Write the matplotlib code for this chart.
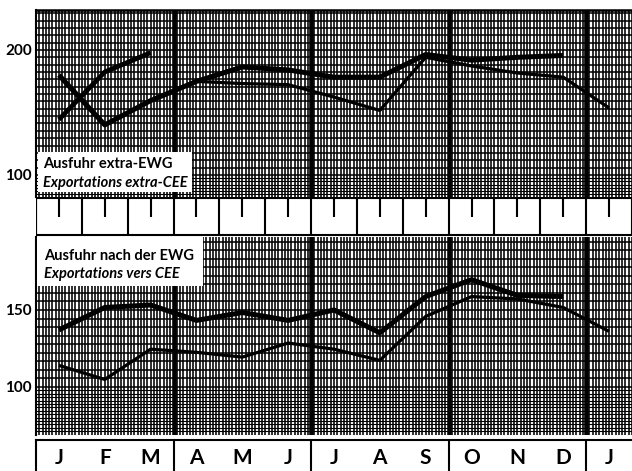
import numpy as np
import matplotlib
matplotlib.use("Agg")
import matplotlib.pyplot as plt
from matplotlib.collections import LineCollection
from matplotlib.patches import Rectangle
from matplotlib.ticker import NullLocator, NullFormatter, FixedLocator, FixedFormatter

nan = np.nan
months = ["J", "F", "M", "A", "M", "J", "J", "A", "S", "O", "N", "D", "J"]

# Ausfuhr extra-EWG (index values, log scale)
extra_thick = [174, 132, 151, 168, 182, 179, 172, 172, 195, 189, 192, 194, nan]
extra_thin = [nan, nan, nan, 168, 166, 165, 154, 143, 192, 183, 176, 172, 145]
extra_next = [136, 177, 197, nan, nan, nan, nan, nan, nan, nan, nan, nan, nan]
extra_ticks = [100, 200]
extra_title = ["Ausfuhr extra-EWG", "Exportations extra-CEE"]

# Ausfuhr nach der EWG
ewg_thick = [135, 152, 154, 142, 148, 142, 150, 133, 161, 176, 162, 161, nan]
ewg_thin = [112, 104, 122, 120, 117, 126, 122, 115, 145, 161, 159, 152, 134]
ewg_ticks = [100, 150]
ewg_title = ["Ausfuhr nach der EWG", "Exportations vers CEE"]

W, H = 632, 471
fig = plt.figure(figsize=(W / 100, H / 100), dpi=100)
fig.patch.set_facecolor("white")
FONT = ["Lato", "DejaVu Sans"]


def fr(l, t, r, b):
    return [l / W, 1 - b / H, (r - l) / W, (b - t) / H]


x = np.arange(len(months))
xlim = (-0.5, len(months) - 0.5)
quarters = [2.5, 5.5, 8.5, 11.5]


def draw_grid(ax, ylo, yhi, base, d_main, d_dense):
    xs = -0.5 + np.arange(len(months) * 14 + 1) / 14.0
    segs = [[(xv, 0), (xv, 1)] for xv in xs]
    lc = LineCollection(segs, colors="black", linewidths=1.15, antialiaseds=True,
                        transform=ax.get_xaxis_transform(), zorder=1)
    ax.add_collection(lc, autolim=False)
    ys = []
    k = 0
    while base * 10 ** (k * d_main) <= yhi:
        ys.append(base * 10 ** (k * d_main))
        k += 1
    segs = [[(0, yv), (1, yv)] for yv in ys]
    lc = LineCollection(segs, colors="black", linewidths=1.1, antialiaseds=True,
                        transform=ax.get_yaxis_transform(), zorder=1)
    ax.add_collection(lc, autolim=False)
    ys = []
    k = 1
    while base * 10 ** (-k * d_dense) >= ylo:
        ys.append(base * 10 ** (-k * d_dense))
        k += 1
    segs = [[(0, yv), (1, yv)] for yv in ys]
    lc = LineCollection(segs, colors="black", linewidths=0.8, antialiaseds=True,
                        transform=ax.get_yaxis_transform(), zorder=1)
    ax.add_collection(lc, autolim=False)


def setup_panel(ax, ylim, ticks, thick, thin, extra, title, box, tpos):
    ax.set_yscale("log")
    ax.set_xlim(*xlim)
    ax.set_ylim(*ylim)
    ax.set_xticks([])
    ax.yaxis.set_major_locator(FixedLocator(ticks))
    ax.yaxis.set_major_formatter(FixedFormatter([str(t) for t in ticks]))
    ax.yaxis.set_minor_locator(NullLocator())
    ax.yaxis.set_minor_formatter(NullFormatter())
    ax.tick_params(axis="y", length=0, pad=3)
    for lab in ax.get_yticklabels():
        lab.set_fontweight("bold")
        lab.set_fontsize(11)
        lab.set_family(FONT)
    for s in ["right", "bottom"]:
        ax.spines[s].set_visible(False)
    ax.spines["left"].set_linewidth(1.5)
    ax.spines["top"].set_linewidth(1.8)
    for q in quarters:
        ax.axvline(q, color="black", lw=3.3, zorder=2)
    ax.plot(x, thick, color="black", lw=3.6, solid_capstyle="butt",
            solid_joinstyle="round", zorder=4)
    ax.plot(x, thin, color="black", lw=2.3, solid_capstyle="butt",
            solid_joinstyle="round", zorder=4)
    if extra is not None:
        ax.plot(x, extra, color="black", lw=3.4, solid_capstyle="butt",
                solid_joinstyle="round", zorder=4)
    ax.add_patch(Rectangle((box[0], box[1]), box[2], box[3], transform=ax.transAxes,
                           facecolor="white", edgecolor="none", zorder=5))
    ax.text(tpos[0], tpos[1], title[0], transform=ax.transAxes, fontsize=10.5,
            fontweight="bold", family=FONT, va="baseline", ha="left", zorder=6)
    ax.text(tpos[0], tpos[2], title[1], transform=ax.transAxes, fontsize=10.5,
            fontweight="bold", style="italic", family=FONT, va="baseline",
            ha="left", zorder=6)


# top panel: y 10..197 px, 200 at y=50, 100 at y=175
ax1 = fig.add_axes(fr(36, 10, 632, 197))
ylim1 = (88.5, 249.6)
draw_grid(ax1, ylim1[0], ylim1[1], 100, np.log10(2) / 17, 0.0078)
setup_panel(ax1, ylim1, extra_ticks, extra_thick, extra_thin, extra_next, extra_title,
            (0.003, 0.027, 0.258, 0.214), (0.012, 0.155, 0.053))

# bottom panel: y 237..435 px, 150 at y=310, 100 at y=387
ax2 = fig.add_axes(fr(36, 237, 632, 435))
ylim2 = (77.6, 220.4)
draw_grid(ax2, ylim2[0], ylim2[1], 100, np.log10(1.5) / 9, 0.0078)
setup_panel(ax2, ylim2, ewg_ticks, ewg_thick, ewg_thin, None, ewg_title,
            (0.002, 0.755, 0.278, 0.25), (0.013, 0.884, 0.793))
ax2.spines["top"].set_visible(False)

# middle band with month ticks
axb = fig.add_axes(fr(36, 197, 632, 237))
axb.set_xlim(*xlim)
axb.set_ylim(0, 1)
axb.axis("off")
axb.hlines([0.975, 0.05], -0.5, 12.5, color="black", lw=1.5)
axb.vlines(np.arange(len(months) + 1) - 0.5, 0.05, 0.975, color="black", lw=1.5)
axb.vlines(x, 0.5, 0.975, color="black", lw=1.5)
axb.vlines([-0.5], 0, 1, color="black", lw=1.5)

# month letters row
axm = fig.add_axes(fr(36, 440, 632, 471))
axm.set_xlim(*xlim)
axm.set_ylim(0, 1)
axm.set_xticks([])
axm.set_yticks([])
for s in ["right", "bottom"]:
    axm.spines[s].set_visible(False)
axm.spines["top"].set_linewidth(1.5)
axm.spines["left"].set_linewidth(1.5)
axm.vlines(quarters, 0, 1, color="black", lw=1.5)
for i, m in enumerate(months):
    axm.text(i, 0.42, m, ha="center", va="center", fontsize=15, fontweight="bold",
             family=FONT)

fig.savefig("out.png", dpi=100, facecolor="white")
